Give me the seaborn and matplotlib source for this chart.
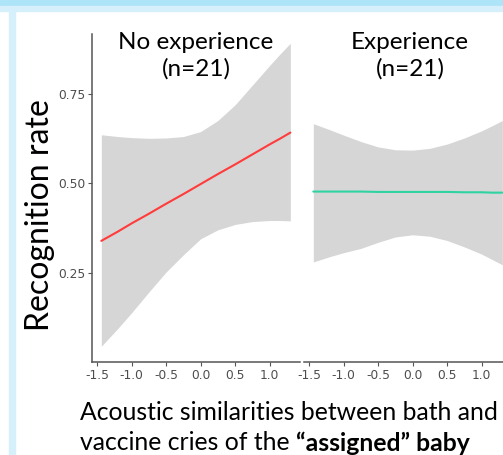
import matplotlib
matplotlib.use("Agg")
import matplotlib.pyplot as plt
import seaborn as sns
import pandas as pd
from matplotlib.patches import Rectangle

x_grid = [-1.44, -1.2, -1.0, -0.75, -0.5, -0.25, 0.0, 0.25, 0.5, 0.75, 1.0, 1.15, 1.30]

# No experience panel
noexp_fit = [0.339, 0.365, 0.388, 0.415, 0.443, 0.470, 0.498, 0.526, 0.553, 0.581, 0.609, 0.625, 0.642]
noexp_upper = [0.636, 0.631, 0.628, 0.626, 0.627, 0.631, 0.645, 0.676, 0.720, 0.775, 0.830, 0.862, 0.892]
noexp_lower = [0.044, 0.094, 0.138, 0.196, 0.252, 0.300, 0.345, 0.370, 0.385, 0.393, 0.396, 0.396, 0.395]

# Experience panel
exp_fit = [0.477, 0.477, 0.477, 0.477, 0.476, 0.476, 0.476, 0.476, 0.476, 0.475, 0.475, 0.474, 0.474]
exp_upper = [0.667, 0.650, 0.635, 0.617, 0.602, 0.594, 0.593, 0.598, 0.610, 0.627, 0.647, 0.661, 0.676]
exp_lower = [0.280, 0.295, 0.306, 0.318, 0.335, 0.350, 0.356, 0.352, 0.340, 0.322, 0.302, 0.287, 0.272]

panel_titles = ["No experience\n(n=21)", "Experience\n(n=21)"]
x_ticks = [-1.5, -1.0, -0.5, 0.0, 0.5, 1.0]
y_ticks = [0.25, 0.50, 0.75]

sns.set_theme(style="white")
plt.rcParams["font.family"] = ["Lato", "DejaVu Sans"]

W, H = 503, 455
fig = plt.figure(figsize=(W / 100, H / 100), dpi=100)
fig.patch.set_facecolor("white")

# slide decorations
fig.patches.append(Rectangle((0, 1 - 6 / H), 1, 6 / H, transform=fig.transFigure,
                             color="#ade4f8", zorder=0))
fig.patches.append(Rectangle((0, 1 - 11 / H), 1, 5 / H, transform=fig.transFigure,
                             color="#d5effb", zorder=0))
fig.patches.append(Rectangle((9 / W, 0), 6 / W, 1 - 11 / H, transform=fig.transFigure,
                             color="#d5effb", zorder=0))

ax_w = 208 / W
ax_b = (H - 362) / H
ax_h = 328 / H
ax1 = fig.add_axes([92 / W, ax_b, ax_w, ax_h])
ax2 = fig.add_axes([304 / W, ax_b, ax_w, ax_h])

panels = [
    (ax1, noexp_fit, noexp_lower, noexp_upper, "#ff3b3b"),
    (ax2, exp_fit, exp_lower, exp_upper, "#2dd3a0"),
]

for i, (ax, fit, lo, hi, col) in enumerate(panels):
    df = pd.DataFrame({"x": x_grid, "fit": fit})
    ax.fill_between(x_grid, lo, hi, color="#d6d6d6", lw=0, zorder=1)
    sns.lineplot(data=df, x="x", y="fit", ax=ax, color=col, lw=1.5, zorder=2)
    ax.set_xlim(-1.575, 1.44)
    ax.set_ylim(0.0, 0.918)
    ax.set_xticks(x_ticks)
    ax.set_xticklabels([f"{t:.1f}" for t in x_ticks])
    ax.set_facecolor("none")
    ax.set_xlabel("")
    ax.set_ylabel("")
    for s in ["top", "right"]:
        ax.spines[s].set_visible(False)
    ax.spines["bottom"].set_color("#555555")
    ax.spines["bottom"].set_linewidth(1.1)
    ax.tick_params(axis="x", bottom=True, length=3, width=0.8, color="#555555",
                   labelsize=8.8, labelcolor="#4d4d4d", pad=2)
    for lab in ax.get_xticklabels():
        lab.set_family("DejaVu Sans")
    if i == 0:
        ax.spines["left"].set_color("#555555")
        ax.spines["left"].set_linewidth(1.1)
        ax.set_yticks(y_ticks)
        ax.set_yticklabels([f"{t:.2f}" for t in y_ticks])
        ax.tick_params(axis="y", left=True, length=3, width=0.8, color="#555555",
                       labelsize=8.8, labelcolor="#4d4d4d", pad=2)
        for lab in ax.get_yticklabels():
            lab.set_family("DejaVu Sans")
    else:
        ax.spines["left"].set_visible(False)
        ax.set_yticks([])

# panel titles
fig.text(196 / W, 1 - 56 / H, panel_titles[0], ha="center", va="center",
         fontsize=17.5, linespacing=1.3, color="black")
fig.text(410 / W, 1 - 56 / H, panel_titles[1], ha="center", va="center",
         fontsize=17.5, linespacing=1.3, color="black")

# y label
fig.text(40 / W, 1 - 215 / H, "Recognition rate", rotation=90, ha="center",
         va="center", fontsize=23, color="black")

# x label (two lines, part of the second in bold)
fig.text(80 / W, 1 - 412 / H, "Acoustic similarities between bath and",
         ha="left", va="center", fontsize=17.8, color="black")
t2 = fig.text(80 / W, 1 - 443 / H, "vaccine cries of the ", ha="left", va="center",
              fontsize=17.8, color="black")
fig.canvas.draw()
bb = t2.get_window_extent(renderer=fig.canvas.get_renderer())
fig.text(bb.x1 / W, 1 - 443 / H, "\u201cassigned\u201d baby", ha="left", va="center",
         fontsize=17.8, fontweight="bold", color="black")

fig.savefig("out.png", dpi=100)
